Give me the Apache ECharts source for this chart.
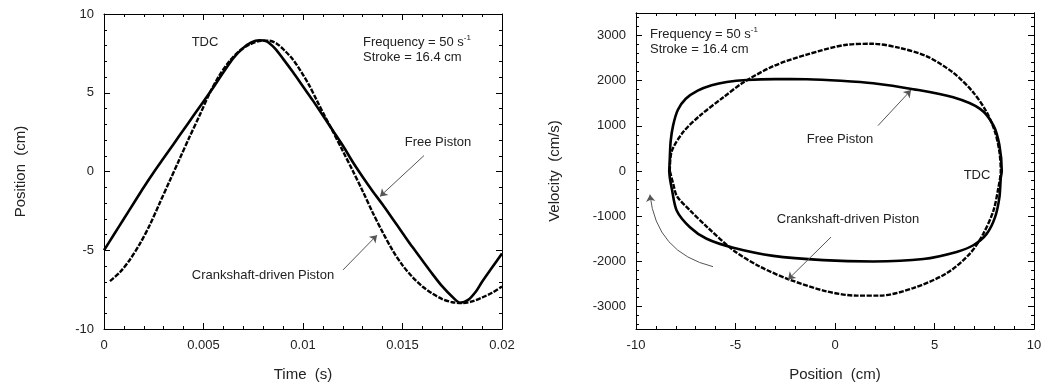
<!DOCTYPE html>
<html>
<head>
<meta charset="utf-8">
<script src="https://cdn.jsdelivr.net/npm/echarts@6/dist/echarts.min.js"></script>
<style>
  html, body { margin: 0; padding: 0; background: #fff; }
  #chart { width: 1045px; height: 387px; }
</style>
</head>
<body>
<div id="chart"></div>
<script>
// left panel: piston position vs time
const freeTime = [0, 0.0005, 0.001, 0.0015, 0.002, 0.0025, 0.003, 0.0035, 0.004, 0.0045, 0.005, 0.0055, 0.006, 0.0065, 0.007, 0.0074, 0.0078, 0.0082, 0.0086, 0.009, 0.0095, 0.01, 0.0105, 0.011, 0.0115, 0.012, 0.0125, 0.013, 0.0135, 0.014, 0.0145, 0.015, 0.0155, 0.016, 0.0165, 0.017, 0.0175, 0.0179, 0.0183, 0.0187, 0.019, 0.0195, 0.02];
const freePos = [-5.0, -4.0, -3.0, -2.0, -1.0, -0.05, 0.85, 1.75, 2.65, 3.55, 4.45, 5.35, 6.3, 7.2, 7.85, 8.2, 8.33, 8.25, 7.8, 7.15, 6.3, 5.4, 4.5, 3.55, 2.6, 1.65, 0.6, -0.35, -1.25, -2.1, -3.0, -3.9, -4.8, -5.65, -6.5, -7.3, -7.95, -8.33, -8.15, -7.6, -7.0, -6.1, -5.2];
const crankTime = [0.0003, 0.0008, 0.0013, 0.0018, 0.0023, 0.0028, 0.0033, 0.0038, 0.0043, 0.0048, 0.0053, 0.0058, 0.0063, 0.0068, 0.0073, 0.0078, 0.0083, 0.0087, 0.0091, 0.0095, 0.0099, 0.0103, 0.0107, 0.0111, 0.0115, 0.012, 0.0125, 0.013, 0.0135, 0.014, 0.0145, 0.015, 0.0155, 0.016, 0.0165, 0.017, 0.0175, 0.018, 0.0185, 0.019, 0.0195, 0.02];
const crankPos = [-6.96, -6.4, -5.6, -4.6, -3.4, -2.0, -0.6, 0.8, 2.2, 3.55, 4.95, 6.1, 7.0, 7.65, 8.05, 8.28, 8.3, 8.1, 7.65, 7.1, 6.35, 5.5, 4.5, 3.5, 2.55, 1.3, 0.05, -1.25, -2.6, -3.85, -5.0, -5.95, -6.7, -7.3, -7.75, -8.1, -8.3, -8.35, -8.25, -8.0, -7.7, -7.3];

// right panel: velocity vs position loops
const freeLoopPos = [-8.33, -8.3, -8.26, -8.14, -7.9, -7.5, -6.9, -6.2, -5.44, -4.44, -3.0, -1.42, 0.3, 1.92, 3.93, 5.94, 7.29, 7.96, 8.26, 8.38, 8.33, 8.26, 8.04, 7.62, 6.95, 6.11, 4.44, 1.92, -0.59, -3.1, -5.11, -6.45, -7.29, -7.95, -8.21, -8.3, -8.33];
const freeLoopVel = [0, 300, 650, 1000, 1350, 1600, 1780, 1900, 1973, 2017, 2035, 2032, 2000, 1945, 1813, 1632, 1376, 1012, 575, 0, -153, -590, -1027, -1392, -1645, -1792, -1950, -2005, -1975, -1880, -1700, -1501, -1245, -880, -371, -150, 0];
const crankLoopPos = [-8.3, -8.21, -7.62, -6.78, -5.61, -4.61, -3.1, -1.42, 0.59, 1.92, 3.27, 4.61, 5.94, 6.95, 7.62, 8.04, 8.26, 8.33, 8.21, 7.96, 7.45, 6.78, 5.61, 3.93, 2.26, 1.09, -0.42, -2.26, -3.77, -5.11, -6.45, -7.29, -7.94, -8.12, -8.3];
const crankLoopVel = [0, 430, 867, 1230, 1632, 1960, 2322, 2578, 2797, 2818, 2724, 2541, 2178, 1741, 1304, 867, 430, 0, -371, -880, -1392, -1829, -2266, -2593, -2760, -2760, -2666, -2410, -2119, -1754, -1230, -870, -560, -300, 0];

// tick marks
const velTicks = [-3000, -2000, -1000, 0, 1000, 2000, 3000];
const velMinorTicks = [-3400, -3200, -2800, -2600, -2400, -2200, -1800, -1600, -1400, -1200, -800, -600, -400, -200, 200, 400, 600, 800, 1200, 1400, 1600, 1800, 2200, 2400, 2600, 2800, 3200, 3400];

// annotation arrows [from, to] in data units
const leftFreeArrow = [[0.01608, 1.01], [0.01387, -1.58]];
const leftCrankArrow = [[0.01201, -6.25], [0.01372, -4.04]];
const rightFreeArrow = [[2.16, 1005], [3.82, 1792]];
const rightCrankArrow = [[-0.2, -1464], [-2.36, -2403]];
const motionArrow = [[-6.13, -2119], [-9.3, -524]];

const FONT = '"Liberation Sans", Arial, sans-serif';
const INK = '#222';

const zip = (a, b) => a.map((v, i) => [v, b[i]]);

const arrow = (pair) => [{ coord: pair[0] }, { coord: pair[1] }];

const frame = { show: true, onZero: false, lineStyle: { color: '#000', width: 1 } };

function valueAxis(grid, pos, min, max, interval, showLabel, fmt) {
  return {
    type: 'value', gridIndex: grid, position: pos, min, max, interval,
    axisLine: frame,
    axisTick: { show: true, inside: true, length: 6, lineStyle: { color: '#000' } },
    minorTick: { show: true, splitNumber: 5, length: 3, lineStyle: { color: '#000' } },
    splitLine: { show: false },
    axisLabel: { show: showLabel, color: INK, fontSize: 13, fontFamily: FONT, margin: 10, formatter: fmt },
  };
}

function velAxis(pos, ticks, len, showLabel) {
  return {
    type: 'value', gridIndex: 1, position: pos, min: -3500, max: 3500,
    axisLine: frame,
    axisTick: { show: true, inside: true, length: len, customValues: ticks, lineStyle: { color: '#000' } },
    splitLine: { show: false },
    axisLabel: {
      show: showLabel, customValues: ticks, color: INK, fontSize: 13, fontFamily: FONT, margin: 10,
      formatter: (v) => String(v),
    },
  };
}

const nameStyle = { color: INK, fontSize: 15, fontFamily: FONT };
const timeFmt = (v) => String(+v.toFixed(3));
const plainFmt = (v) => String(v);

const xAxes = [
  Object.assign(valueAxis(0, 'bottom', 0, 0.02, 0.005, true, timeFmt),
    { name: 'Time  (s)', nameLocation: 'middle', nameGap: 38, nameTextStyle: nameStyle }),
  valueAxis(0, 'top', 0, 0.02, 0.005, false),
  Object.assign(valueAxis(1, 'bottom', -10, 10, 5, true, plainFmt),
    { name: 'Position  (cm)', nameLocation: 'middle', nameGap: 38, nameTextStyle: nameStyle }),
  valueAxis(1, 'top', -10, 10, 5, false),
];

const yAxes = [
  Object.assign(valueAxis(0, 'left', -10, 10, 5, true, plainFmt),
    { name: 'Position  (cm)', nameLocation: 'middle', nameGap: 76, nameTextStyle: nameStyle }),
  valueAxis(0, 'right', -10, 10, 5, false),
  Object.assign(velAxis('left', velTicks, 6, true),
    { name: 'Velocity  (cm/s)', nameLocation: 'middle', nameGap: 74, nameTextStyle: nameStyle }),
  velAxis('left', velMinorTicks, 3, false),
  velAxis('right', velTicks, 6, false),
  velAxis('right', velMinorTicks, 3, false),
];

const solid = { color: '#000', width: 2.6 };
const dashed = { color: '#000', width: 2.4, type: [5, 1.5] };
const arrowLine = { color: '#555', width: 1, type: 'solid', opacity: 1 };

function txt(x, y, text, align) {
  return {
    type: 'text', x, y, silent: true,
    style: {
      text, fill: INK, font: '13px ' + FONT,
      textAlign: align || 'center', textVerticalAlign: 'middle',
      rich: { sup: { fontSize: 8, fontFamily: FONT, fill: INK, padding: [0, 0, 8, 0] } },
    },
  };
}

const option = {
  animation: false,
  backgroundColor: '#fff',
  textStyle: { fontFamily: FONT },
  grid: [
    { left: 104, top: 14, width: 398, height: 317 },
    { left: 636, top: 13, width: 398, height: 318 },
  ],
  xAxis: xAxes,
  yAxis: yAxes,
  series: [
    {
      name: 'Free Piston', type: 'line', xAxisIndex: 0, yAxisIndex: 0,
      data: zip(freeTime, freePos), symbol: 'none', smooth: 0.3, lineStyle: solid,
      markLine: {
        silent: true, symbol: ['none', 'arrow'], symbolSize: 7, label: { show: false },
        lineStyle: arrowLine,
        data: [arrow(leftFreeArrow), arrow(leftCrankArrow)],
      },
    },
    {
      name: 'Crankshaft-driven Piston', type: 'line', xAxisIndex: 0, yAxisIndex: 0,
      data: zip(crankTime, crankPos), symbol: 'none', smooth: 0.3, lineStyle: dashed,
    },
    {
      name: 'Free Piston', type: 'line', xAxisIndex: 2, yAxisIndex: 2,
      data: zip(freeLoopPos, freeLoopVel), symbol: 'none', smooth: 0.3, lineStyle: solid,
      markLine: {
        silent: true, symbol: ['none', 'arrow'], symbolSize: 7, label: { show: false },
        lineStyle: arrowLine,
        data: [arrow(rightFreeArrow), arrow(rightCrankArrow)],
      },
    },
    {
      name: 'Crankshaft-driven Piston', type: 'line', xAxisIndex: 2, yAxisIndex: 2,
      data: zip(crankLoopPos, crankLoopVel), symbol: 'none', smooth: 0.3, lineStyle: dashed,
    },
    {
      // direction-of-motion arrow
      type: 'lines', coordinateSystem: 'cartesian2d', xAxisIndex: 2, yAxisIndex: 2,
      silent: true, symbol: ['none', 'arrow'], symbolSize: 7,
      lineStyle: Object.assign({}, arrowLine, { curveness: 0.35 }),
      itemStyle: { color: '#555', opacity: 1 },
      data: [{ coords: motionArrow }],
    },
  ],
  graphic: [
    txt(205, 42, 'TDC'),
    txt(363, 42, 'Frequency = 50 s{sup|-1}', 'left'),
    txt(363, 57, 'Stroke = 16.4 cm', 'left'),
    txt(438, 142, 'Free Piston'),
    txt(263, 275, 'Crankshaft-driven Piston'),
    txt(650, 34, 'Frequency = 50 s{sup|-1}', 'left'),
    txt(650, 49, 'Stroke = 16.4 cm', 'left'),
    txt(840, 139, 'Free Piston'),
    txt(977, 175, 'TDC'),
    txt(848, 219, 'Crankshaft-driven Piston'),
  ],
};

const chart = echarts.init(document.getElementById('chart'), null, { renderer: 'canvas' });
chart.setOption(option);
</script>
</body>
</html>
